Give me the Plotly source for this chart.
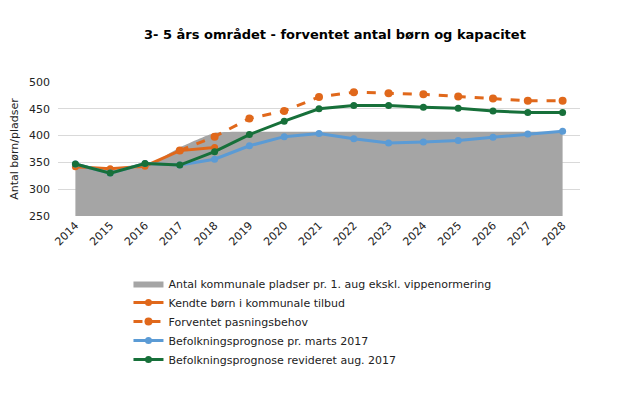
import plotly.graph_objects as go

years = [str(y) for y in range(2014, 2029)]
kapacitet = [342, 336, 342, 378, 405, 407, 407, 407, 407, 407, 407, 407, 407, 407, 407]
kendte_years = years[:5]
kendte = [342, 338, 343, 372, 378]
forventet_years = years[3:]
forventet = [372, 398, 432, 446, 472, 481, 479, 477, 473, 469, 465, 465]
marts = [347, 330, 348, 345, 356, 381, 398, 404, 394, 386, 388, 391, 397, 403, 408]
revideret = [347, 330, 348, 345, 370, 402, 427, 450, 456, 456, 453, 451, 446, 443, 443]

orange = "#e0681b"
blue = "#5b9bd5"
green = "#17703a"
font = "DejaVu Sans"

fig = go.Figure()
fig.add_trace(go.Scatter(x=years, y=kapacitet, name="Antal kommunale pladser pr. 1. aug ekskl. vippenormering",
                         mode="lines", line=dict(width=0, color="#a5a5a5", shape="spline", smoothing=0.5),
                         fill="tozeroy", fillcolor="#a5a5a5"))
fig.add_trace(go.Scatter(x=kendte_years, y=kendte, name="Kendte børn i kommunale tilbud",
                         mode="lines+markers", line=dict(width=3, color=orange),
                         marker=dict(size=7, color=orange)))
fig.add_trace(go.Scatter(x=forventet_years, y=forventet, name="Forventet pasningsbehov",
                         mode="lines+markers", line=dict(width=3, color=orange, dash="dash"),
                         marker=dict(size=8, color=orange)))
fig.add_trace(go.Scatter(x=years, y=marts, name="Befolkningsprognose pr. marts 2017",
                         mode="lines+markers", line=dict(width=3, color=blue),
                         marker=dict(size=7, color=blue)))
fig.add_trace(go.Scatter(x=years, y=revideret, name="Befolkningsprognose revideret aug. 2017",
                         mode="lines+markers", line=dict(width=3, color=green),
                         marker=dict(size=7, color=green)))

fig.update_layout(
    width=601, height=378,
    margin=dict(l=50, r=29, t=74, b=170, autoexpand=False),
    paper_bgcolor="white", plot_bgcolor="white",
    font=dict(family=font, size=11, color="#222"),
    title=dict(text="<b>3- 5 års området - forventet antal børn og kapacitet</b>",
               x=0.544, xanchor="center", y=0.931, yanchor="middle", automargin=False,
               font=dict(family=font, size=13, color="#000")),
    xaxis=dict(type="category", range=[-0.5, 14.5], tickangle=-45, showgrid=False,
               showline=False, ticks="", tickfont=dict(size=11), automargin=False),
    yaxis=dict(range=[250, 500], dtick=50, gridcolor="#d9d9d9", zeroline=False,
               showline=False, ticks="", tickfont=dict(size=11), automargin=False,
               ticklabelstandoff=7,
               title=dict(text="Antal børn/pladser", font=dict(size=11), standoff=9)),
    legend=dict(x=0.135, xanchor="left", y=0.3095, yanchor="top", yref="container",
                font=dict(size=11), tracegroupgap=0, itemwidth=30,
                bgcolor="rgba(0,0,0,0)"),
    showlegend=True,
)

fig.write_html("out.html")
